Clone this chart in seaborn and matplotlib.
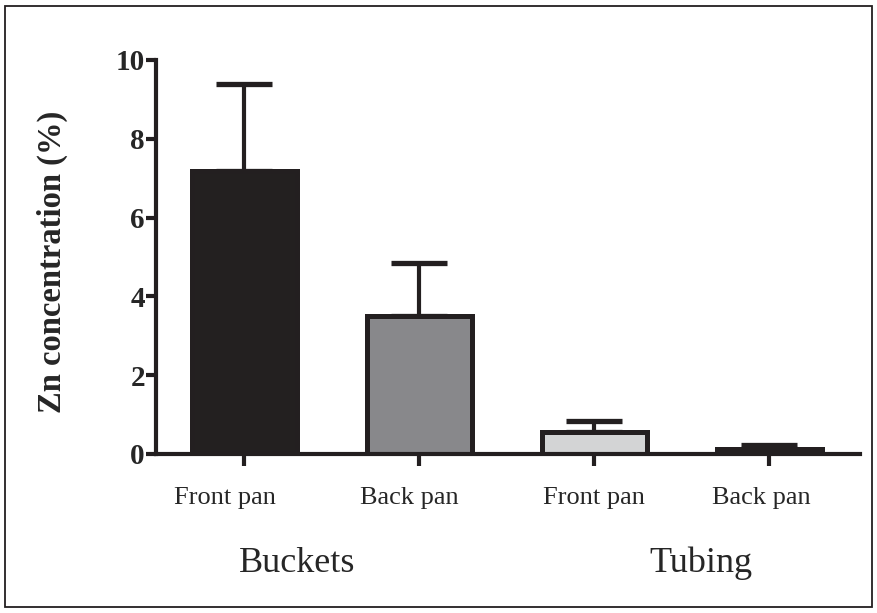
import matplotlib
matplotlib.use("Agg")
import matplotlib.pyplot as plt
import matplotlib.transforms as mtransforms
import seaborn as sns
import pandas as pd
from matplotlib.patches import Rectangle

# Data
categories = ["Buckets Front pan", "Buckets Back pan", "Tubing Front pan", "Tubing Back pan"]
tick_labels = ["Front pan", "Back pan", "Front pan", "Back pan"]
means = [7.18, 3.50, 0.55, 0.13]
upper_err = [2.20, 1.35, 0.29, 0.10]
groups = ["Buckets", "Tubing"]
colors = ["#231f20", "#87888c", "#d3d4d5", "#2a2a2a"]

sns.set_theme(style="white")
plt.rcParams["font.family"] = ["Liberation Serif", "DejaVu Serif"]

df = pd.DataFrame({"cat": categories, "val": means})

fig = plt.figure(figsize=(8.78, 6.13), dpi=100)
ax = fig.add_axes([156/878, 1-454/613, (860-156)/878, (454-60)/613])

sns.barplot(data=df, x="cat", y="val", hue="cat", palette=colors, order=categories,
            hue_order=categories, legend=False, width=0.6, edgecolor="#231f20",
            linewidth=3.6, ax=ax, errorbar=None, zorder=3)

ax.errorbar(range(len(categories)), means, yerr=[[0]*4, upper_err], fmt="none",
            ecolor="#231f20", elinewidth=3.0, capsize=20, capthick=3.8, zorder=2)

ax.set_xlim(-0.503, 3.52)
ax.set_ylim(0, 10)
ax.set_yticks([0, 2, 4, 6, 8, 10])
ax.set_xticks(range(4))
ax.set_xticklabels(tick_labels, fontsize=19)
for lab in ax.get_yticklabels():
    lab.set_fontweight("bold")
    lab.set_fontsize(21)

for s in ["top", "right"]:
    ax.spines[s].set_visible(False)
for s in ["left", "bottom"]:
    ax.spines[s].set_linewidth(3.0)
    ax.spines[s].set_color("#231f20")
    ax.spines[s].set_zorder(4)

ax.tick_params(axis="y", direction="out", length=7, width=3, color="#231f20", pad=1, left=True)
ax.tick_params(axis="x", direction="out", length=8.5, width=3, color="#231f20", pad=15, bottom=True)

# small horizontal offsets of the category labels, as in the reference
label_shift_px = [-19, -10, 0, -8]
for lab, dx in zip(ax.get_xticklabels(), label_shift_px):
    lab.set_transform(lab.get_transform() + mtransforms.ScaledTranslation(dx/100, 0, fig.dpi_scale_trans))

ax.set_xlabel("")
ax.set_ylabel("Zn concentration (%)", fontsize=23.5, fontweight="bold", va="center")
ax.yaxis.set_label_coords((52-156)/704, (454-262)/394)

fig.text(297/878, 1-563/613, groups[0], fontsize=26, ha="center", va="center")
fig.text(701/878, 1-563/613, groups[1], fontsize=26, ha="center", va="center")

fig.patches.append(Rectangle((5/878, 1-607/613), 867/878, 601/613, transform=fig.transFigure,
                             fill=False, edgecolor="#231f20", linewidth=1.3))

fig.savefig("out.png", dpi=100)
